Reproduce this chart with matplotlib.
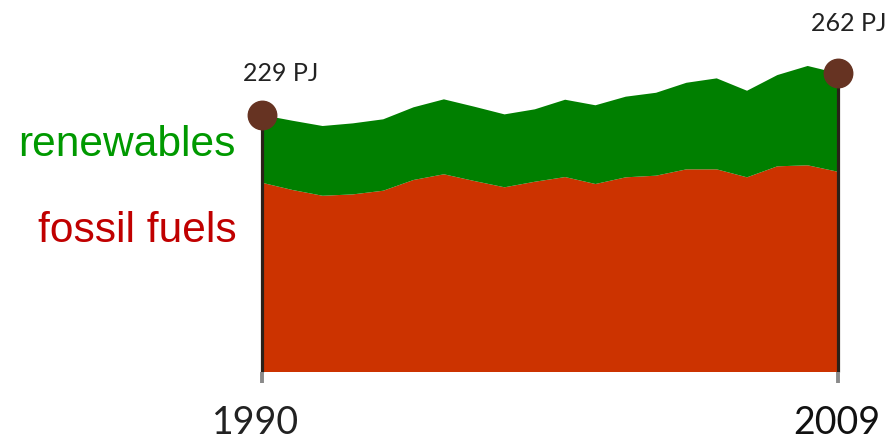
import numpy as np
import matplotlib
matplotlib.use("Agg")
import matplotlib.pyplot as plt
from matplotlib import transforms

# energy supply, PJ
years = list(range(1990, 2010))
fossil = [175.4, 169.7, 165.1, 166.2, 169.1, 177.6, 182.1, 176.8, 171.8, 176.2,
          179.9, 174.4, 179.7, 181.0, 186.0, 186.0, 179.7, 188.4, 189.2, 184.1]
total = [229.0, 224.5, 220.3, 222.4, 225.6, 235.1, 241.4, 235.6, 229.5, 233.5,
         241.1, 236.7, 243.5, 246.6, 254.5, 258.0, 248.2, 260.6, 267.8, 262.0]
renewables = [t - f for t, f in zip(total, fossil)]
series_names = ["renewables", "fossil fuels"]
end_labels = ["%d PJ" % round(total[0]), "%d PJ" % round(total[-1])]

W, H = 895, 443
fig = plt.figure(figsize=(W / 100, H / 100), dpi=100)
# axes box in pixels: left 262, right 838, bottom 371.7, top 0
ax = fig.add_axes([262 / W, (H - 371.7) / H, 576 / W, 371.7 / H])
ax.set_xlim(1990, 2009)
ax.set_ylim(25.9, 320)
ax.axis("off")

ax.stackplot(years, fossil, renewables, colors=["#CC3300", "#007F00"],
             baseline="zero", linewidth=0)

pole_col = "#2A2119"
dot_col = "#663322"
px = 1.264  # pixels per PJ
for i in [0, -1]:
    x = years[i]
    ax.plot([x, x], [ax.get_ylim()[0], total[i]], color=pole_col, lw=2.3,
            solid_capstyle="butt", clip_on=False, zorder=3)
    ax.plot([x, x], [ax.get_ylim()[0] - 11 / px, ax.get_ylim()[0]], color="#8a8a8a",
            lw=2.8, solid_capstyle="butt", clip_on=False, zorder=3)
    ax.plot(x, total[i], "o", ms=20.5, color=dot_col, mec=dot_col,
            clip_on=False, zorder=4)

ax.annotate(end_labels[0], (years[0], total[0]), xytext=(13.5, 29.6),
            textcoords="offset points", ha="center", va="center",
            fontsize=18, family="Lato", color="#222222")
ax.annotate(end_labels[1], (years[-1], total[-1]), xytext=(7.7, 35.6),
            textcoords="offset points", ha="center", va="center",
            fontsize=18, family="Lato", color="#222222")

# year labels below the poles
tr = transforms.blended_transform_factory(ax.transData, fig.transFigure)
ax.text(years[0] - 0.2, (H - 423.5) / H, str(years[0]), transform=tr,
        ha="center", va="center", fontsize=27, family="Lato", color="#222222")
ax.text(years[-1] - 0.04, (H - 422.5) / H, str(years[-1]), transform=tr,
        ha="center", va="center", fontsize=27, family="Lato", color="#111111")

# series names on the left
fig.text(236 / W, (H - 156) / H, series_names[0], ha="right", va="baseline",
         fontsize=30.6, family="Liberation Sans", color="#009900")
fig.text(237 / W, (H - 241.7) / H, series_names[1], ha="right", va="baseline",
         fontsize=30.6, family="Liberation Sans", color="#C00000")

fig.savefig("out.png", dpi=100)
